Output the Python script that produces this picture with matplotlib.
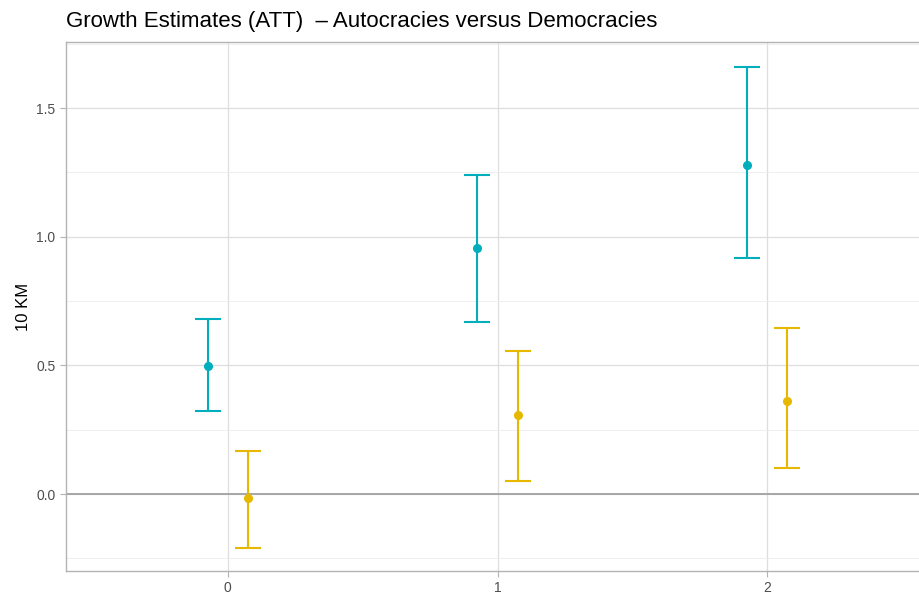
import numpy as np
import matplotlib.pyplot as plt
from matplotlib.ticker import MultipleLocator

plt.rcParams['font.family'] = ['Liberation Sans', 'DejaVu Sans']

# horizon (years after treatment) and ATT estimates with confidence bounds
horizon = [0, 1, 2]
autoc_est = [0.497, 0.956, 1.279]
autoc_lo = [0.323, 0.668, 0.917]
autoc_hi = [0.680, 1.240, 1.660]
democ_est = [-0.016, 0.307, 0.361]
democ_lo = [-0.210, 0.051, 0.101]
democ_hi = [0.167, 0.556, 0.645]

fig = plt.figure(figsize=(9.19, 5.95), dpi=100)
ax = fig.add_axes([66 / 919, 24 / 595, 863 / 919, 529 / 595])

dodge = 0.075
groups = [
    (autoc_est, autoc_lo, autoc_hi, '#00AFBB', -dodge),
    (democ_est, democ_lo, democ_hi, '#E7B800', dodge),
]
x = np.array(horizon, dtype=float)
for est, lo, hi, col, off in groups:
    est = np.array(est)
    yerr = [est - np.array(lo), np.array(hi) - est]
    ax.errorbar(x + off, est, yerr=yerr, fmt='o', color=col, ms=5.5,
                elinewidth=1.5, capsize=9.7, capthick=1.5, zorder=3)

ax.axhline(0, color='#A6A6A6', lw=1.4, zorder=2)

ax.set_xlim(-0.6, 2.6)
ax.set_ylim(-0.299, 1.757)
ax.set_xticks(horizon)
ax.yaxis.set_major_locator(MultipleLocator(0.5))
ax.yaxis.set_minor_locator(MultipleLocator(0.25))
ax.grid(which='major', color='#DEDEDE', lw=0.9)
ax.grid(which='minor', color='#EDEDED', lw=0.6)
ax.set_axisbelow(True)

for s in ax.spines.values():
    s.set_color('#B3B3B3')
    s.set_linewidth(1.0)
ax.tick_params(which='major', colors='#B3B3B3', labelcolor='#4D4D4D',
               labelsize=10, length=4, width=0.8)
ax.tick_params(which='minor', length=0)

ax.set_ylabel('10 KM', fontsize=12, color='black', labelpad=4)
ax.set_title('Growth Estimates (ATT)  \u2013 Autocracies versus Democracies',
             loc='left', fontsize=16, pad=11)

fig.savefig('out.png', dpi=100)
